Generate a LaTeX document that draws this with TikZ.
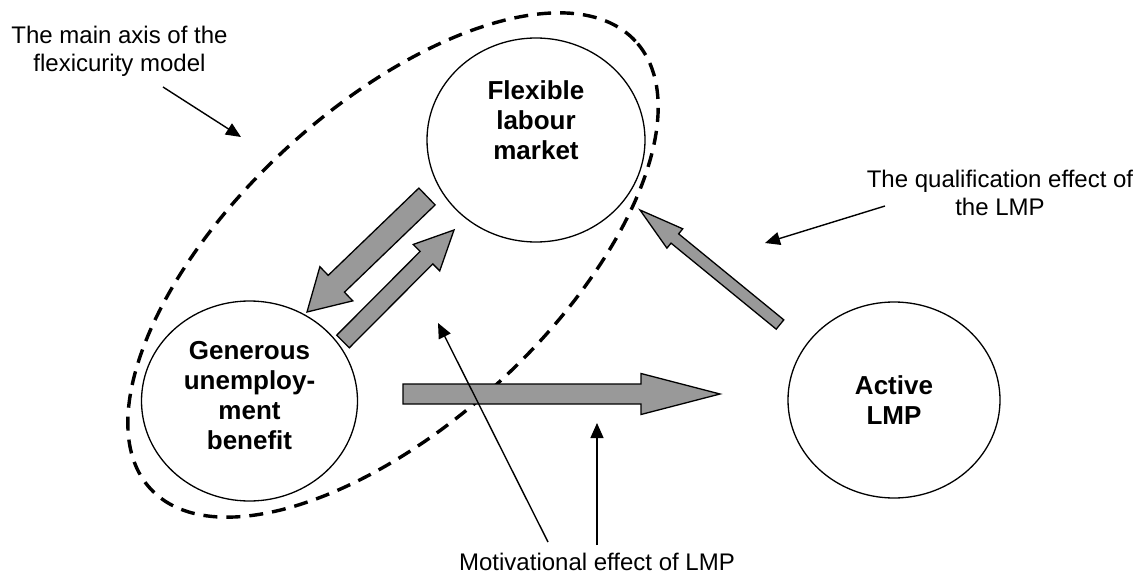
\documentclass[tikz,border=0pt]{standalone}
\usepackage{fontspec}
\setmainfont{Liberation Sans}
\usetikzlibrary{calc,arrows.meta,shapes.geometric}
\definecolor{arrowgray}{RGB}{153,153,153}
\tikzset{
  bubble/.style={ellipse, draw, line width=1.3pt, minimum width=216pt, minimum height=200pt,
    inner sep=0pt, align=center, font=\fontsize{26}{30}\selectfont\bfseries},
  axisline/.style={line width=3.4pt, dash pattern=on 14pt off 9pt},
  blockarrow/.style={draw, line width=1.3pt, fill=arrowgray, line join=miter},
  pointer/.style={line width=1.4pt, -{Triangle[length=15pt,width=13pt]}},
  note/.style={align=center, inner sep=0pt, font=\fontsize{24}{28}\selectfont}
}
% #1 tail, #2 tip, #3 half shaft width, #4 half head width, #5 head length
\newcommand{\blockarr}[5]{%
  \coordinate (ba-base) at ($(#2)!#5!(#1)$);
  \draw[blockarrow] ($(#1)!#3!90:(#2)$) -- ($(ba-base)!#3!90:(#2)$) -- ($(ba-base)!#4!90:(#2)$)
    -- (#2) -- ($(ba-base)!#4!-90:(#2)$) -- ($(ba-base)!#3!-90:(#2)$) -- ($(#1)!#3!-90:(#2)$) -- cycle;}
\begin{document}
\begin{tikzpicture}[x=1pt,y=-1pt]
\useasboundingbox (0,0) rectangle (1140,575);
% main axis (dashed)
\draw[axisline, rotate around={42.7:(393,265)}] (393,265) ellipse [x radius=330pt, y radius=158pt];
% circles
\node[bubble, minimum width=218pt, minimum height=204pt] (flex) at (536,140) {Flexible\\labour\\market\\[10pt]\mbox{}};
\node[bubble] (gen) at (249.5,401) {Generous\\unemploy-\\ment\\benefit\\[-18pt]\mbox{}};
\node[bubble, minimum width=212pt, minimum height=196pt] (act) at (894,400) {Active\\LMP};
% block arrow end points
\coordinate (a1t) at (427,196.5); \coordinate (a1h) at (307,312);
\coordinate (a2t) at (343,341.5); \coordinate (a2h) at (454,230);
\coordinate (a3t) at (403,394);   \coordinate (a3h) at (720,394);
\coordinate (a4t) at (780,324.5); \coordinate (a4h) at (640,210);
\blockarr{a1t}{a1h}{11.7pt}{23.7pt}{40.7pt}
\blockarr{a2t}{a2h}{8.9pt}{18.7pt}{39pt}
\blockarr{a3t}{a3h}{10pt}{20.5pt}{79pt}
\blockarr{a4t}{a4h}{6pt}{12.5pt}{45pt}
% annotations
\node[note] (axislbl) at (119.5,51) {The main axis of the\\flexicurity model};
\node[note] (quallbl) at (1000,193) {The qualification effect of\\the LMP};
\node[note, anchor=base] (motlbl) at (597,570) {Motivational effect of LMP};
\coordinate (p1s) at (163,87);  \coordinate (p1e) at (241,137);
\coordinate (p2s) at (885,206); \coordinate (p2e) at (765,243);
\coordinate (p3s) at (548,542); \coordinate (p3e) at (438,323);
\coordinate (p4s) at (597,545); \coordinate (p4e) at (597,423);
\draw[pointer] (p1s) -- (p1e);
\draw[pointer] (p2s) -- (p2e);
\draw[pointer] (p3s) -- (p3e);
\draw[pointer] (p4s) -- (p4e);
\end{tikzpicture}
\end{document}
